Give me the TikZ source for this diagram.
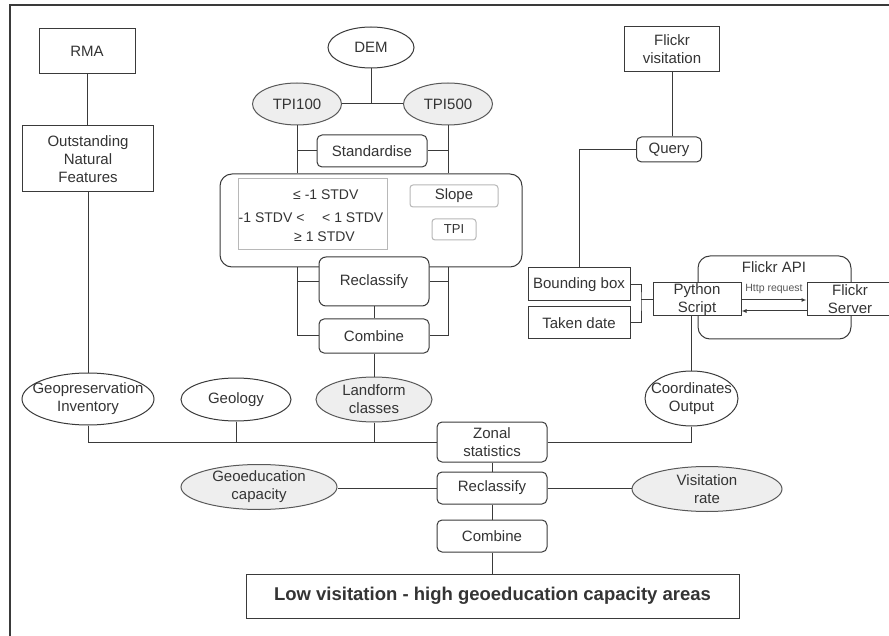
\documentclass[tikz,border=0pt]{standalone}
\usepackage{fontspec}
\setmainfont{Liberation Sans}
\usetikzlibrary{shapes.geometric,arrows.meta}
\definecolor{ink}{HTML}{3A3A3A}
\definecolor{shade}{HTML}{EEEEEE}
\definecolor{faint}{HTML}{B8B8B8}

\begin{document}
\begin{tikzpicture}[x=1pt,y=-1pt,
  every node/.style={font=\fontsize{15}{18}\selectfont, text=ink!90!black, inner sep=0pt, align=center},
  box/.style={draw=ink, line width=1pt, fill=white, rectangle},
  rbox/.style={box, rounded corners=5pt},
  panel/.style={draw=ink, line width=1pt, rounded corners=12pt, fill=white},
  oval/.style={draw=ink, line width=1pt, fill=white, ellipse},
  goval/.style={oval, fill=shade, draw=ink!85},
  lightbox/.style={draw=faint, line width=1pt, rounded corners=3pt, fill=white},
  small/.style={font=\fontsize{14}{17}\selectfont},
  link/.style={draw=ink, line width=1pt},
]
\useasboundingbox (0,0) rectangle (889,636);
\clip (0,0) rectangle (889,636);

% frame
\draw[link, line width=1.3pt] (10,640) -- (10,5) -- (895,5);

% ---- left column
\node[box, minimum width=96, minimum height=45] (rma) at (87,51.5) {RMA};
\node[box, minimum width=131, minimum height=66] (onf) at (88,159) {Outstanding\\Natural\\Features};

% ---- landform branch
\node[oval, minimum width=86, minimum height=41, label=center:DEM] (dem) at (371,47.5) {};
\node[goval, minimum width=89, minimum height=42, label=center:TPI100] (tpi100) at (297,104) {};
\node[goval, minimum width=89, minimum height=42, label=center:TPI500] (tpi500) at (448,104) {};
\node[rbox, minimum width=110, minimum height=32] (std) at (372,151) {Standardise};

\node[panel, minimum width=302, minimum height=93] (lf) at (371,220.5) {};
\node[draw=faint, line width=1pt, minimum width=149, minimum height=71] (cls) at (312.5,214.5) {};
\node[small, anchor=west] (le) at (293,195) {≤ -1 STDV};
\node[small, anchor=west] (mida) at (238.5,218) {-1 STDV <};
\node[small, anchor=west] (midb) at (322,218) {< 1 STDV};
\node[small, anchor=west] (ge) at (294,237) {≥ 1 STDV};
\node[lightbox, minimum width=88, minimum height=22] (slope) at (454,196) {Slope};
\node[lightbox, minimum width=44, minimum height=21, font=\fontsize{13}{15}\selectfont] (tpi) at (454,229.5) {TPI};

\node[rbox, rounded corners=7pt, minimum width=110, minimum height=49] (recl1) at (374,281.5) {Reclassify};
\node[rbox, minimum width=110, minimum height=34] (comb1) at (374,336) {Combine};

% ---- inputs to zonal statistics
\node[oval, minimum width=132, minimum height=52, label=center:{Geopreservation\\Inventory}] (geop) at (88,399) {};
\node[oval, minimum width=110, minimum height=43, label=center:Geology] (geol) at (236,399.5) {};
\node[goval, minimum width=116, minimum height=45, label=center:{Landform\\classes}] (land) at (374,399.5) {};
\node[oval, minimum width=93, minimum height=55, label=center:{Coordinates\\Output}] (coord) at (691.5,398.5) {};

\node[rbox, minimum width=110, minimum height=40] (zonal) at (492,442) {Zonal\\statistics};
\node[rbox, minimum width=110, minimum height=32] (recl2) at (492,488) {Reclassify};
\node[rbox, minimum width=110, minimum height=32] (comb2) at (492,536) {Combine};
\node[goval, minimum width=156, minimum height=45, label=center:{Geoeducation\\capacity}] (gedu) at (259,487) {};
\node[goval, minimum width=150, minimum height=45, label=center:{Visitation\\rate}] (visit) at (707,489) {};
\node[box, minimum width=493, minimum height=44, font=\bfseries\fontsize{18.5}{22}\selectfont] (final) at (492.5,596) {Low visitation - high geoeducation capacity areas};

% ---- Flickr branch
\node[box, minimum width=95, minimum height=45] (fv) at (672,49.5) {Flickr\\visitation};
\node[rbox, minimum width=65, minimum height=25] (query) at (669,149.5) {Query};
\node[box, minimum width=102, minimum height=33] (bbox) at (579,284.5) {Bounding box};
\node[box, minimum width=102, minimum height=32] (taken) at (579,323) {Taken date};
\node[panel, fill=none, minimum width=153, minimum height=83] (api) at (774.5,297.5) {};
\node (apit) at (774,267) {Flickr API};
\node[box, minimum width=88, minimum height=33] (py) at (697,299.5) {Python\\Script};
\node[box, minimum width=86, minimum height=33] (srv) at (850,299.5) {Flickr\\Server};
\node[font=\fontsize{10.5}{12}\selectfont, text=ink!85] (http) at (774,289) {Http request};
\coordinate (jn) at (641,299.5);

% ---- connectors
\draw[link] (rma.south) -- (rma.south |- onf.north);
\draw[link] (onf.south) -- (geop.north);

\draw[link] (dem.south) -- (dem.south |- tpi100.east);
\draw[link] (tpi100.east) -- (tpi500.west);
\draw[link] (tpi100.south) -- (tpi100.south |- lf.north);
\draw[link] (tpi500.south) -- (tpi500.south |- lf.north);
\draw[link] (tpi100.south |- std.west) -- (std.west);
\draw[link] (tpi500.south |- std.east) -- (std.east);

\draw[link] (tpi100.south |- lf.south) |- (comb1.west);
\draw[link] (tpi500.south |- lf.south) |- (comb1.east);
\draw[link] (tpi100.south |- recl1.west) -- (recl1.west);
\draw[link] (tpi500.south |- recl1.east) -- (recl1.east);
\draw[link] (recl1.south) -- (comb1.north);
\draw[link] (comb1.south) -- (land.north);

\draw[link] (geop.south) |- (zonal.west);
\draw[link] (geol.south) -- (geol.south |- zonal.west);
\draw[link] (land.south) -- (land.south |- zonal.west);
\draw[link] (zonal.east) -| (coord.south);
\draw[link] (coord.north |- py.south) -- (coord.north);

\draw[link] (zonal.south) -- (recl2.north);
\draw[link] (recl2.south) -- (comb2.north);
\draw[link] (comb2.south) -- (comb2.south |- final.north);
\draw[link] (recl2.west) -- (recl2.west -| gedu.east);
\draw[link] (recl2.east) -- (recl2.east -| visit.west);

\draw[link] (fv.south) -- (fv.south |- query.north);
\draw[link] (query.west) -| (bbox.north);
\draw[link] (bbox.east) -| (jn) |- (taken.east);
\draw[link] (jn) -- (py.west);
\draw[link, -{Latex[length=5pt,width=4pt]}] ([yshift=-0.5pt]py.east) -- ([yshift=-0.5pt]srv.west);
\draw[link, -{Latex[length=5pt,width=4pt]}] ([yshift=-11.5pt]srv.west) -- ([yshift=-11.5pt]py.east);
\end{tikzpicture}
\end{document}
